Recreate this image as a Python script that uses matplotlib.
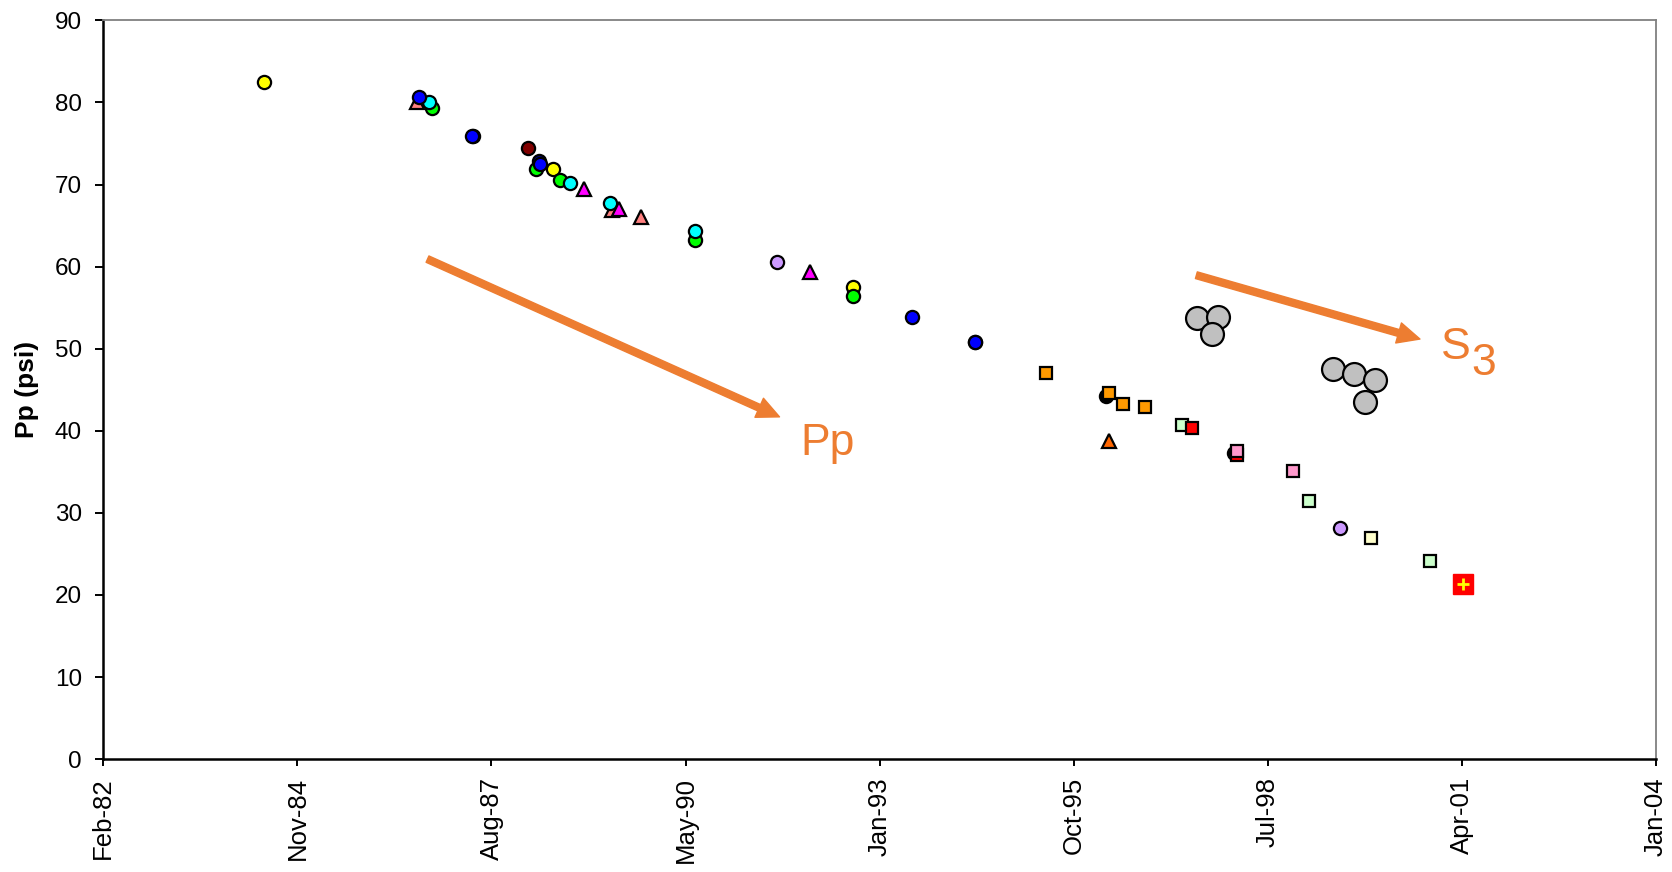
import numpy as np
import pandas as pd
import matplotlib
matplotlib.use('Agg')
import matplotlib.pyplot as plt
import matplotlib.dates as mdates

plt.rcParams['font.family'] = ['Liberation Sans', 'DejaVu Sans']

# --- pressure readings, one group per marker style (date, Pp in psi) ---
salmon_tri_dates = ['1986-07-05', '1989-04-05', '1989-09-03']
salmon_tri_pp = [80.0, 66.9, 66.1]

navy_dates = ['1987-04-21', '1988-03-25', '1994-05-24']
navy_pp = [75.9, 72.9, 50.8]

black_dates = ['1996-03-26', '1998-01-18']
black_pp = [44.2, 37.3]

yellow_dates = ['1984-05-07', '1988-06-08', '1992-08-30']
yellow_pp = [82.5, 71.85, 57.55]

green_dates = ['1986-09-20', '1988-03-11', '1988-07-14', '1990-06-09', '1992-08-30']
green_pp = [79.3, 71.85, 70.55, 63.2, 56.4]

cyan_dates = ['1986-09-06', '1988-09-02', '1989-03-27', '1990-06-09']
cyan_pp = [80.05, 70.2, 67.8, 64.3]

blue_dates = ['1986-07-18', '1987-04-16', '1988-04-01', '1993-06-30', '1994-05-21']
blue_pp = [80.7, 75.9, 72.5, 53.9, 50.8]

darkred_dates = ['1988-01-28']
darkred_pp = [74.4]

magenta_tri_dates = ['1988-11-15', '1989-05-14', '1992-01-24']
magenta_tri_pp = [69.5, 67.0, 59.4]

lavender_dates = ['1991-08-07', '1999-07-18']
lavender_pp = [60.5, 28.2]

orange_tri_dates = ['1996-04-13']
orange_tri_pp = [38.8]

s3_dates = ['1997-07-08', '1997-10-27', '1997-09-23',
            '1999-06-09', '1999-09-27', '2000-01-13', '1999-11-22']
s3_pp = [53.7, 53.9, 51.75, 47.5, 46.9, 46.2, 43.5]

orange_sq_dates = ['1995-05-23', '1996-04-13', '1996-06-24', '1996-10-13']
orange_sq_pp = [47.0, 44.6, 43.3, 42.9]

ltgreen_sq_dates = ['1997-04-23', '1999-02-10', '2000-10-23']
ltgreen_sq_pp = [40.7, 31.4, 24.1]

red_sq_dates = ['1997-06-14', '1998-01-30']
red_sq_pp = [40.4, 37.05]

pink_sq_dates = ['1998-01-30', '1998-11-18']
pink_sq_pp = [37.5, 35.1]

ltyellow_sq_dates = ['1999-12-22']
ltyellow_sq_pp = [27.0]

latest_dates = ['2001-04-09']
latest_pp = [21.3]

tick_labels = ['Feb-82', 'Nov-84', 'Aug-87', 'May-90', 'Jan-93',
               'Oct-95', 'Jul-98', 'Apr-01', 'Jan-04']
x_start, x_end = '1982-02-01', '2004-01-01'

series = [
    (salmon_tri_dates, salmon_tri_pp, '^', '#FF8080', 10.5),
    (navy_dates, navy_pp, 'o', '#000080', 9.5),
    (black_dates, black_pp, 'o', '#000000', 9.5),
    (yellow_dates, yellow_pp, 'o', '#FFFF00', 9.5),
    (green_dates, green_pp, 'o', '#00FF00', 9.5),
    (cyan_dates, cyan_pp, 'o', '#00FFFF', 9.5),
    (blue_dates, blue_pp, 'o', '#0000FF', 9.5),
    (darkred_dates, darkred_pp, 'o', '#800000', 9.5),
    (magenta_tri_dates, magenta_tri_pp, '^', '#FF00FF', 10.5),
    (lavender_dates, lavender_pp, 'o', '#CC99FF', 9.5),
    (orange_tri_dates, orange_tri_pp, '^', '#FF6600', 10.5),
    (s3_dates, s3_pp, 'o', '#C0C0C0', 16.5),
    (orange_sq_dates, orange_sq_pp, 's', '#FF9900', 9),
    (ltgreen_sq_dates, ltgreen_sq_pp, 's', '#CCFFCC', 9),
    (red_sq_dates, red_sq_pp, 's', '#FF0000', 9),
    (pink_sq_dates, pink_sq_pp, 's', '#FF99CC', 9),
    (ltyellow_sq_dates, ltyellow_sq_pp, 's', '#FFFFCC', 9),
]

fig = plt.figure(figsize=(16.72, 8.72), dpi=100)
ax = fig.add_axes([0.0618, 0.1294, 0.9286, 0.8473])

for dates, pp, mk, col, ms in series:
    ax.plot(pd.to_datetime(dates), pp, ls='none', marker=mk, mfc=col,
            mec='black', mew=1.6, ms=ms)

# last reading: red square with yellow cross
ax.plot(pd.to_datetime(latest_dates), latest_pp, ls='none', marker='s',
        mfc='#FF0000', mec='#FF0000', ms=15)
ax.plot(pd.to_datetime(latest_dates), latest_pp, ls='none', marker='+',
        mec='#FFFF00', mew=2, ms=9)

x0 = mdates.date2num(pd.Timestamp(x_start))
x1 = mdates.date2num(pd.Timestamp(x_end))
ax.set_xlim(x0, x1)
ax.set_xticks(np.linspace(x0, x1, len(tick_labels)))
ax.set_xticklabels(tick_labels, rotation=90, fontsize=18.5)
ax.set_ylim(0, 90)
ax.set_yticks(range(0, 91, 10))
ax.tick_params(axis='y', labelsize=17.5, length=5.5, width=1.4, direction='out', pad=10)
ax.tick_params(axis='x', length=5, width=1.4, direction='out', pad=8)
ax.set_ylabel('Pp (psi)', fontsize=19, fontweight='bold')
ax.yaxis.set_label_coords(-0.0413, 0.5)

for s in ['left', 'bottom']:
    ax.spines[s].set_linewidth(1.8)
    ax.spines[s].set_color('black')
for s in ['top', 'right']:
    ax.spines[s].set_linewidth(1.3)
    ax.spines[s].set_color('#808080')

orange = '#ED7D31'
arrow = dict(facecolor=orange, edgecolor=orange, width=5, headwidth=15,
             headlength=16, shrink=0)
ax.annotate('', xy=(0.4355, 0.4633), xytext=(0.2088, 0.6768),
            xycoords='axes fraction', textcoords='axes fraction', arrowprops=arrow)
ax.annotate('', xy=(0.848, 0.5686), xytext=(0.704, 0.655),
            xycoords='axes fraction', textcoords='axes fraction', arrowprops=arrow)
ax.text(0.449, 0.427, 'Pp', color=orange, fontsize=32, ha='left', va='center',
        transform=ax.transAxes)
ax.text(0.871, 0.557, 'S', color=orange, fontsize=32, ha='center', va='center',
        transform=ax.transAxes)
ax.text(0.889, 0.535, '3', color=orange, fontsize=32, ha='center', va='center',
        transform=ax.transAxes)

fig.savefig('out.png', dpi=100)
